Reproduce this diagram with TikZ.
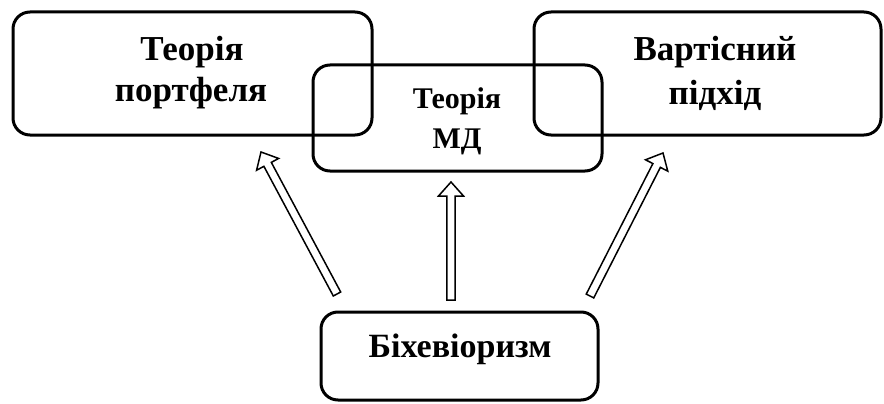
\documentclass[tikz,border=0pt]{standalone}
\usepackage{fontspec}
\setmainfont{Liberation Serif}
\usetikzlibrary{calc}

\tikzset{
  box/.style={draw, line width=3pt, rounded corners=17pt, inner sep=0pt},
  bigtext/.style={font=\bfseries\fontsize{35}{42}\selectfont, anchor=base, inner sep=0pt},
  smalltext/.style={font=\bfseries\fontsize{30}{36}\selectfont, anchor=base, inner sep=0pt},
  arrowline/.style={draw, line width=1.5pt, line join=miter, fill=white},
}

% hollow block arrow from #1 (tail) to #2 (tip)
\newcommand\blockarrow[2]{%
  \path ($(#2)!14pt!(#1)$) coordinate (#2-neck);
  \path[arrowline]
    ($(#1)!4.2pt!90:(#2)$) --
    ($(#2-neck)!4.2pt!90:(#2)$) --
    ($(#2-neck)!12.5pt!90:(#2)$) --
    (#2) --
    ($(#2-neck)!12.5pt!-90:(#2)$) --
    ($(#2-neck)!4.2pt!-90:(#2)$) --
    ($(#1)!4.2pt!-90:(#2)$) -- cycle;
}

\begin{document}
\begin{tikzpicture}[x=1pt, y=-1pt]
  \useasboundingbox (0,0) rectangle (884,404);

  % boxes
  \node[box, minimum width=359pt, minimum height=123pt] (portfolio) at (192.5,73.5) {};
  \node[box, minimum width=289pt, minimum height=106pt] (md) at (457.5,118) {};
  \node[box, minimum width=347pt, minimum height=123pt] (value) at (707.5,73.5) {};
  \node[box, minimum width=277pt, minimum height=88pt] (behav) at (459.5,356) {};

  % labels
  \node[bigtext] (portfolio1) at (192,61) {Теорія};
  \node[bigtext] (portfolio2) at (191,102) {портфеля};
  \node[smalltext] (md1) at (457,109) {Теорія};
  \node[smalltext] (md2) at (457,148) {МД};
  \node[bigtext] (value1) at (715,61) {Вартісний};
  \node[bigtext] (value2) at (715,104) {підхід};
  \node[bigtext, font=\bfseries\fontsize{34}{40}\selectfont] (behav1) at (460,357) {Біхевіоризм};

  % arrow ends
  \coordinate (lt) at (337,294);
  \coordinate (lh) at (261,152);
  \coordinate (mt) at (451,300);
  \coordinate (mh) at (451,182);
  \coordinate (rt) at (590,296);
  \coordinate (rh) at (663,153);

  \blockarrow{lt}{lh}
  \blockarrow{mt}{mh}
  \blockarrow{rt}{rh}
\end{tikzpicture}
\end{document}
